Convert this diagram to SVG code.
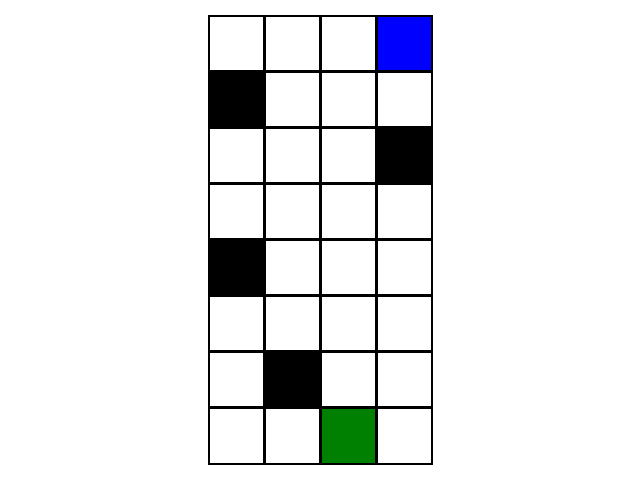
<svg xmlns="http://www.w3.org/2000/svg" width="640" height="480" viewBox="0 0 640 480">
<style>
.w{fill:#fff}.k{fill:#000}.b{fill:#0000ff}.g{fill:#008000}
.ln{stroke:#000;stroke-width:3}
.bd{fill:none;stroke:#000;stroke-width:2}
</style>
<rect width="640" height="480" fill="#fff"/>
<g id="cells">
<rect class="b" x="376" y="16" width="56" height="56"/>
<rect class="k" x="208" y="72" width="56" height="56"/>
<rect class="k" x="376" y="128" width="56" height="56"/>
<rect class="k" x="208" y="240" width="56" height="56"/>
<rect class="k" x="264" y="352" width="56" height="56"/>
<rect class="g" x="320" y="408" width="56" height="56"/>
</g>
<g id="gridlines">
<line class="ln" x1="264.5" y1="15" x2="264.5" y2="465"/>
<line class="ln" x1="320.5" y1="15" x2="320.5" y2="465"/>
<line class="ln" x1="376.5" y1="15" x2="376.5" y2="465"/>
<line class="ln" x1="208" y1="71.5" x2="432" y2="71.5"/>
<line class="ln" x1="208" y1="127.5" x2="432" y2="127.5"/>
<line class="ln" x1="208" y1="183.5" x2="432" y2="183.5"/>
<line class="ln" x1="208" y1="239.5" x2="432" y2="239.5"/>
<line class="ln" x1="208" y1="295.5" x2="432" y2="295.5"/>
<line class="ln" x1="208" y1="351.5" x2="432" y2="351.5"/>
<line class="ln" x1="208" y1="407.5" x2="432" y2="407.5"/>
<rect class="bd" x="209" y="16" width="223" height="448"/>
</g>
<g id="connectors"/>
</svg>
